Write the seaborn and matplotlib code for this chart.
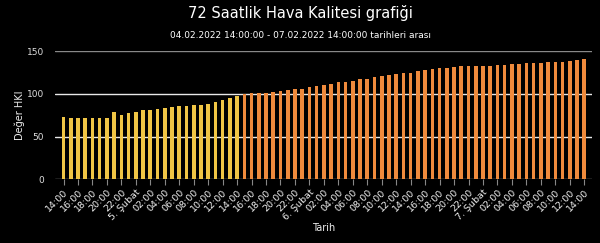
import matplotlib
matplotlib.use("Agg")
import matplotlib.pyplot as plt
import seaborn as sns
import pandas as pd

# Data (hourly, 04.02.2022 14:00 -> 07.02.2022 14:00)
hours = ([f"04.02 {h:02d}:00" for h in range(14, 24)]
         + [f"05.02 {h:02d}:00" for h in range(24)]
         + [f"06.02 {h:02d}:00" for h in range(24)]
         + [f"07.02 {h:02d}:00" for h in range(15)])
values = [72.5, 71.7, 71.7, 71.7, 71.7, 71.7, 72, 78.8, 75.3, 78,
          78.8, 80.7, 81.5, 82.7, 83.7, 84.7, 85.5, 85.5, 86.4, 87.4,
          88.4, 90, 92.3, 95, 97.4,
          100, 100.4, 101.1, 101.5, 101.9, 103.1, 103.9, 105.1, 105.8, 107.4,
          109, 110.6, 111.7, 113.3, 114.1, 115.3, 116.8, 117.6, 119.2, 120.4,
          121.9, 122.7, 123.9, 124.7, 126.2, 127.4, 129, 129.8, 130.6, 131.4,
          132.1, 132.1, 132.1, 132.1, 132.9, 133.3, 134.1, 134.9, 134.5, 135.6,
          136.4, 136.4, 137.2, 137.2, 137.2, 138, 140, 140.7]
levels = ["orta" if v < 99.5 else "hassas" for v in values]
tick_labels = ["14:00", "16:00", "18:00", "20:00", "22:00", "5. Şubat",
               "02:00", "04:00", "06:00", "08:00", "10:00", "12:00",
               "14:00", "16:00", "18:00", "20:00", "22:00", "6. Şubat",
               "02:00", "04:00", "06:00", "08:00", "10:00", "12:00",
               "14:00", "16:00", "18:00", "20:00", "22:00", "7. Şubat",
               "02:00", "04:00", "06:00", "08:00", "10:00", "12:00", "14:00"]
palette = {"orta": "#f0c545", "hassas": "#ef8a3c"}

df = pd.DataFrame({"saat": hours, "deger": values, "seviye": levels})

sns.set_theme(style="dark")
plt.rcParams["font.family"] = ["DejaVu Sans"]

fig = plt.figure(figsize=(6, 2.43), dpi=100, facecolor="black")
ax = fig.add_axes([0.092, 0.262, 0.895, 0.528])
ax.set_facecolor("black")

sns.barplot(data=df, x="saat", y="deger", hue="seviye", palette=palette,
            dodge=False, width=0.5, legend=False, ax=ax,
            linewidth=0, order=hours, saturation=1)
for p in ax.patches:
    p.set_zorder(3)

ax.set_ylim(0, 150)
ax.set_xlim(-1.15, len(hours) - 1 + 1.1)
ax.set_yticks([0, 50, 100, 150])
ax.set_yticklabels(["0", "50", "100", "150"], color="#dddddd", fontsize=6.5)
ax.set_xticks(range(0, len(hours), 2))
ax.set_xticklabels(tick_labels, rotation=45, ha="right", rotation_mode="anchor",
                   color="#eeeeee", fontsize=6.8)
ax.tick_params(axis="x", length=4, color="#888888", width=0.8, pad=2, bottom=True)
ax.tick_params(axis="y", length=0, pad=8)

ax.yaxis.grid(True, color="#e8e8e8", linewidth=1)
ax.xaxis.grid(False)
ax.set_axisbelow(True)
glines = ax.get_ygridlines()
glines[-1].set_color("#888888")
glines[0].set_color("#999999")
for s in ax.spines.values():
    s.set_visible(False)

ax.set_xlabel("Tarih", color="#eeeeee", fontsize=7, labelpad=1)
ax.set_ylabel("Değer HKI", color="#eeeeee", fontsize=7, labelpad=1)

fig.text(0.5, 0.945, "72 Saatlik Hava Kalitesi grafiği", ha="center", va="center",
         color="white", fontsize=10.5)
fig.text(0.5, 0.852, "04.02.2022 14:00:00 - 07.02.2022 14:00:00 tarihleri arası",
         ha="center", va="center", color="white", fontsize=6.5)

fig.savefig("out.png", dpi=100, facecolor="black")
